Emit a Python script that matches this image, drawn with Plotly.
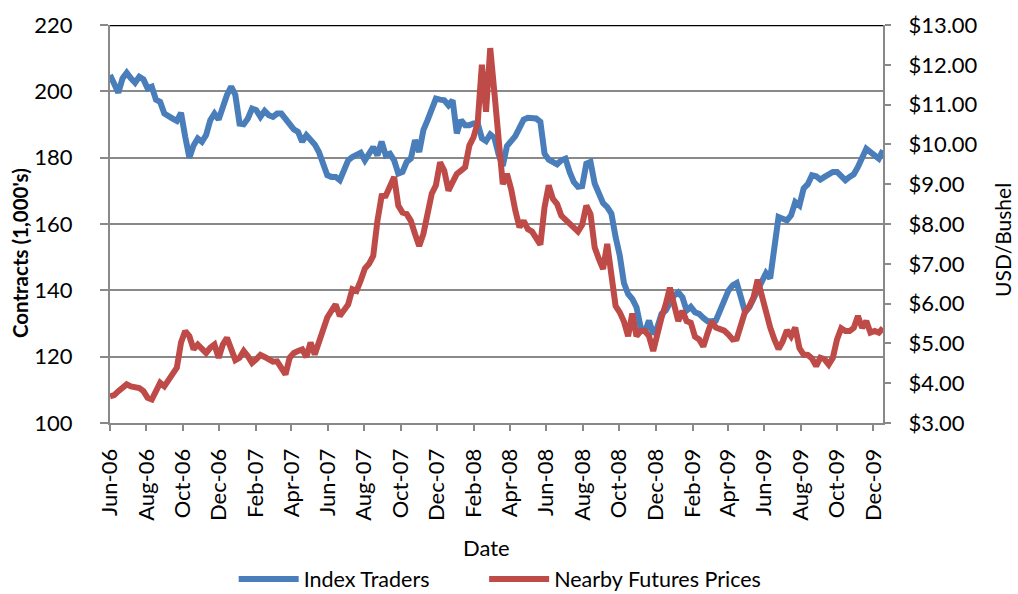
import pandas as pd
import plotly.graph_objects as go

# ---------------- data (weekly) ----------------
start_date = "2006-06-06"
end_date = "2009-12-22"

index_traders = [
    204.9, 202.4, 199.6, 203.9, 205.6, 203.9, 202.6, 204.4, 203.6, 200.9,
    201.4, 197.5, 196.8, 193.3, 192.3, 191.8, 191.1, 193.5, 186.3, 180.0,
    183.7, 185.8, 184.8, 186.8, 191.3, 193.3, 191.5, 195.3, 198.9, 201.4,
    198.9, 190.3, 190.1, 191.8, 194.8, 194.3, 192.3, 194.1, 192.8, 192.3,
    193.3, 193.3, 191.8, 189.8, 188.5, 187.8, 184.8, 186.8, 185.3, 184.0,
    181.7, 178.2, 174.7, 174.2, 174.2, 173.2, 175.7, 179.2, 180.2, 180.7,
    181.5, 179.2, 181.0, 183.2, 180.7, 184.8, 180.7, 181.2, 179.2, 175.2,
    175.7, 178.7, 179.7, 185.3, 181.7, 188.3, 191.3, 194.3, 197.8, 197.5,
    197.3, 195.8, 197.3, 187.3, 191.3, 189.8, 189.8, 190.3, 190.3, 185.8,
    185.0, 187.0, 186.0, 181.0, 177.5, 183.5, 185.0, 186.5, 189.0, 191.5,
    192.0, 191.8, 191.8, 190.8, 181.2, 179.4, 178.7, 178.0, 179.2, 179.7,
    175.7, 172.7, 171.2, 171.4, 178.2, 178.7, 172.2, 169.6, 166.3, 165.1,
    163.1, 156.1, 150.5, 142.2, 138.9, 137.4, 134.9, 128.9, 127.4, 130.9,
    126.8, 128.9, 132.9, 133.9, 135.9, 138.4, 139.4, 137.9, 133.9, 135.0,
    133.4, 132.9, 131.7, 130.7, 130.7, 130.9, 133.9, 136.9, 139.9, 141.5,
    142.2, 137.9, 133.4, 134.9, 137.4, 139.9, 143.3, 145.2, 143.6, 152.0,
    162.1, 161.6, 161.1, 162.6, 166.6, 165.6, 170.7, 172.0, 174.7, 174.4,
    173.4, 174.2, 175.0, 175.7, 175.7, 174.7, 173.2, 174.2, 175.0, 177.2,
    179.7, 182.7, 181.7, 180.4, 179.7, 182.2,
]

nearby_prices = [
    3.67, 3.70, 3.80, 3.90, 3.97, 3.92, 3.90, 3.88, 3.80, 3.63,
    3.59, 3.84, 4.01, 3.92, 4.09, 4.26, 4.39, 5.02, 5.31, 5.18,
    4.85, 4.97, 4.85, 4.76, 4.89, 4.97, 4.64, 4.97, 5.14, 4.85,
    4.58, 4.64, 4.81, 4.68, 4.51, 4.60, 4.71, 4.66, 4.60, 4.54,
    4.55, 4.39, 4.22, 4.64, 4.76, 4.81, 4.85, 4.66, 5.02, 4.72,
    5.02, 5.35, 5.65, 5.82, 5.98, 5.69, 5.86, 5.98, 6.36, 6.32,
    6.58, 6.88, 7.00, 7.20, 8.08, 8.70, 8.71, 8.92, 9.18, 8.46,
    8.29, 8.25, 8.08, 7.75, 7.45, 7.75, 8.34, 8.76, 8.97, 9.55,
    9.34, 8.84, 9.05, 9.26, 9.34, 9.43, 9.97, 10.18, 10.55, 12.00,
    10.82, 12.42, 11.30, 10.10, 9.00, 9.26, 8.88, 8.34, 7.92, 8.08,
    7.87, 7.81, 7.62, 7.48, 8.42, 8.97, 8.63, 8.50, 8.21, 8.10,
    8.00, 7.90, 7.81, 7.98, 8.46, 8.25, 7.41, 7.12, 6.87, 7.50,
    6.74, 5.94, 5.78, 5.55, 5.18, 5.75, 5.18, 5.31, 5.31, 5.18,
    4.81, 5.27, 5.65, 5.98, 6.40, 5.98, 5.56, 5.82, 5.56, 5.52,
    5.17, 5.10, 4.92, 5.25, 5.55, 5.40, 5.36, 5.32, 5.22, 5.10,
    5.12, 5.45, 5.80, 5.93, 6.15, 6.60, 6.18, 5.72, 5.40, 5.10,
    4.86, 5.05, 5.33, 5.18, 5.40, 4.88, 4.72, 4.71, 4.62, 4.43,
    4.64, 4.60, 4.47, 4.64, 5.10, 5.38, 5.31, 5.31, 5.39, 5.69,
    5.39, 5.56, 5.27, 5.31, 5.27, 5.39,
]

left_ticks = [100, 120, 140, 160, 180, 200, 220]
right_ticks = [3, 4, 5, 6, 7, 8, 9, 10, 11, 12, 13]
right_tick_text = ["$%.2f" % v for v in right_ticks]

series_names = ["Index Traders", "Nearby Futures Prices"]
series_colors = ["#4A7EBB", "#BE4B48"]

left_title = "<b>Contracts (1,000's)</b>"
right_title = "USD/Bushel"
x_title = "Date"

# ---------------- figure ----------------
dates_idx = pd.date_range(start_date, periods=len(index_traders), freq="7D")
dates_px = pd.date_range(start_date, periods=len(nearby_prices), freq="7D")

FONT = "Lato, 'Open Sans', 'DejaVu Sans', sans-serif"
GRID = "#898989"
TICK_FONT = dict(family=FONT, size=22, color="black")

fig = go.Figure()
fig.add_trace(go.Scatter(
    x=dates_idx, y=index_traders, name=series_names[0], mode="lines",
    line=dict(color=series_colors[0], width=6), yaxis="y", legend="legend",
))
fig.add_trace(go.Scatter(
    x=dates_px, y=nearby_prices, name=series_names[1], mode="lines",
    line=dict(color=series_colors[1], width=6), yaxis="y2", legend="legend2",
))

legend_common = dict(
    orientation="h", y=-0.392, yanchor="middle", xanchor="left",
    font=dict(family=FONT, size=21.5, color="black"),
    itemwidth=60, bgcolor="rgba(0,0,0,0)",
)

fig.update_layout(
    width=1018, height=594,
    margin=dict(l=110, r=135, t=25, b=171, autoexpand=False),
    paper_bgcolor="white", plot_bgcolor="white",
    font=dict(family=FONT, size=20, color="black"),
    showlegend=True,
    legend=dict(x=0.160, **legend_common),
    legend2=dict(x=0.484, **legend_common),
    xaxis=dict(
        type="date", range=[start_date, end_date],
        tick0=start_date, dtick="M2", tickformat="%b-%y", tickangle=-90,
        ticks="outside", ticklen=6, tickwidth=2, tickcolor=GRID,
        showline=True, linecolor=GRID, linewidth=2, showgrid=False,
        zeroline=False, ticklabelstandoff=9, automargin=False,
        tickfont=TICK_FONT,
    ),
    yaxis=dict(
        range=[100, 220], tickvals=left_ticks, ticks="outside", ticklen=8,
        tickwidth=2, tickcolor=GRID, showline=True, linecolor=GRID, linewidth=2,
        showgrid=True, gridcolor=GRID, gridwidth=2, zeroline=False,
        ticklabelstandoff=23, automargin=False,
        tickfont=TICK_FONT,
    ),
    yaxis2=dict(
        range=[3, 13], overlaying="y", side="right",
        tickvals=right_ticks, ticktext=right_tick_text,
        ticks="outside", ticklen=6, tickwidth=2, tickcolor=GRID,
        showline=True, linecolor=GRID, linewidth=2, showgrid=False,
        zeroline=False, ticklabelstandoff=13, automargin=False,
        tickfont=TICK_FONT,
    ),
    annotations=[
        dict(text=left_title, xref="paper", yref="paper", x=-0.1164, y=0.427,
             xanchor="center", yanchor="middle", textangle=-90, showarrow=False,
             font=dict(family=FONT, size=20.5, color="black")),
        dict(text=right_title, xref="paper", yref="paper", x=1.1552, y=0.46,
             xanchor="center", yanchor="middle", textangle=-90, showarrow=False,
             font=dict(family=FONT, size=21, color="black")),
        dict(text=x_title, xref="paper", yref="paper", x=0.4877, y=-0.314,
             xanchor="center", yanchor="middle", showarrow=False,
             font=dict(family=FONT, size=22, color="black")),
    ],
    shapes=[dict(type="line", xref="paper", x0=0, x1=1, yref="y", y0=220, y1=220,
                 line=dict(color="black", width=2.5), layer="above")],
)

fig.write_html(
    "out.html",
    config={"displayModeBar": False},
    post_script="document.body.style.margin='0';document.body.style.overflow='hidden';",
)
